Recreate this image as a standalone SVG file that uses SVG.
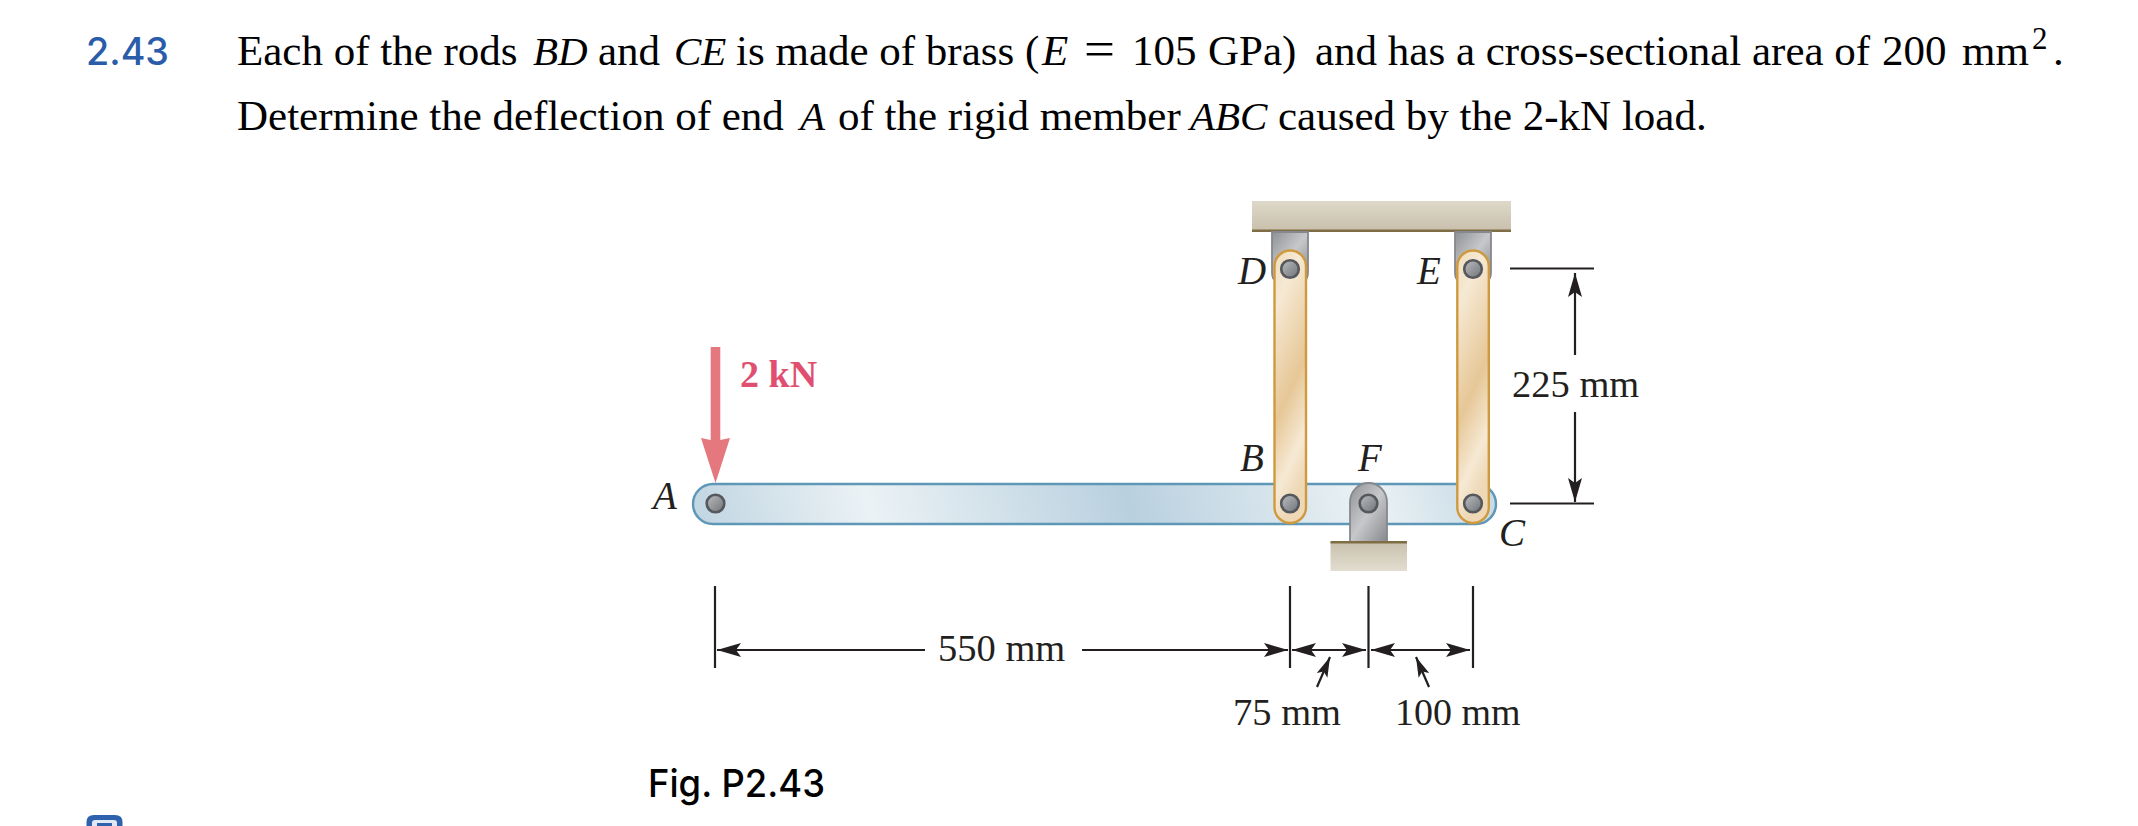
<svg xmlns="http://www.w3.org/2000/svg" width="2138" height="826" viewBox="0 0 2138 826">
<style>
text{font-family:"Liberation Serif","Times New Roman",serif;fill:#000}
.p{font-size:43px}
.i{font-style:italic;font-size:41px}
.l{font-size:38.500px;fill:#231f20}
.li{font-size:39px;fill:#231f20;font-style:italic}
.s{font-family:Inter,"Liberation Sans",sans-serif;font-weight:500}
.dim{stroke:#231f20;stroke-width:2.2;fill:none}
.tick{stroke:#231f20;stroke-width:2.2;fill:none}
.pin{fill:url(#pinG);stroke:#55585c;stroke-width:2.6}
.rod{fill:url(#rodG);stroke:#cf9a3f;stroke-width:2.4}
.brk{fill:url(#brkG);stroke:#85888c;stroke-width:1.8}
</style>
<defs>
<linearGradient id="barG" gradientUnits="userSpaceOnUse" x1="692" y1="620" x2="1497" y2="390">
<stop offset="0" stop-color="#b9d0df"/><stop offset=".24" stop-color="#ebf2f5"/><stop offset=".54" stop-color="#b9d0df"/><stop offset=".82" stop-color="#ebf2f5"/><stop offset="1" stop-color="#bdd3e1"/>
</linearGradient>
<linearGradient id="rodG" x1="0" y1="0" x2="0.25" y2="1">
<stop offset="0" stop-color="#f0dcbb"/><stop offset=".2" stop-color="#f6e9d4"/><stop offset=".6" stop-color="#e6c797"/><stop offset=".85" stop-color="#f6e9d4"/><stop offset="1" stop-color="#eed8b6"/>
</linearGradient>
<linearGradient id="brkG" x1="0" y1="0" x2="1" y2="1">
<stop offset="0" stop-color="#8e9196"/><stop offset=".5" stop-color="#c7c8ca"/><stop offset="1" stop-color="#85888d"/>
</linearGradient>
<linearGradient id="pinG" x1="0" y1="0" x2="1" y2="1">
<stop offset="0" stop-color="#bcbec1"/><stop offset="1" stop-color="#6f7276"/>
</linearGradient>
<linearGradient id="topG" x1="0" y1="0" x2="0" y2="1">
<stop offset="0" stop-color="#ddd8c9"/><stop offset="1" stop-color="#c9c1ad"/>
</linearGradient>
<linearGradient id="baseG" x1="0" y1="0" x2="0" y2="1">
<stop offset="0" stop-color="#c9c1ad"/><stop offset="1" stop-color="#e2ddd0"/>
</linearGradient>
<marker id="ah" viewBox="0 0 24 14" refX="24" refY="7" markerWidth="24" markerHeight="14" markerUnits="userSpaceOnUse" orient="auto-start-reverse">
<path d="M0 0 L24 7 L0 14 L5 7Z" fill="#231f20"/>
</marker>
<marker id="as" viewBox="0 0 24 14" refX="24" refY="7" markerWidth="20" markerHeight="12" markerUnits="userSpaceOnUse" orient="auto-start-reverse">
<path d="M0 0 L24 7 L0 14 L5 7Z" fill="#231f20"/>
</marker>
</defs>

<g id="problem-text">
<text class="s" x="86" y="65" font-size="38" textLength="83" lengthAdjust="spacingAndGlyphs" style="fill:#2a5caa">2.43</text>
<text class="p" x="237" y="65">Each of the rods</text>
<text class="i" x="533" y="65">BD</text>
<text class="p" x="598" y="65">and</text>
<text class="i" x="674" y="65">CE</text>
<text class="p" x="736" y="65">is made of brass (</text>
<text class="p" x="1042" y="65" font-style="italic">E</text>
<text x="1084" y="66" font-size="50" textLength="31" lengthAdjust="spacingAndGlyphs">=</text>
<text class="p" x="1132" y="65">105</text>
<text class="p" x="1208" y="65">GPa)</text>
<text class="p" x="1315" y="65">and has a cross-sectional area of</text>
<text class="p" x="1882" y="65">200</text>
<text class="p" x="1962" y="65">mm</text>
<text x="2032" y="49" font-size="31">2</text>
<text class="p" x="2053" y="65">.</text>
<text class="p" x="237" y="130">Determine the deflection of end</text>
<text class="i" x="800" y="130">A</text>
<text class="p" x="838" y="130">of the rigid member</text>
<text class="i" x="1190" y="130">ABC</text>
<text class="p" x="1278" y="130">caused by the 2-kN load.</text>
<text class="s" x="648" y="797" font-size="38" textLength="177" lengthAdjust="spacingAndGlyphs">Fig. P2.43</text>
</g>

<g id="ceiling">
<rect x="1252" y="201" width="259" height="29" fill="url(#topG)"/>
<rect x="1252" y="229.500" width="259" height="2.500" fill="#7f6e45"/>
</g>

<g id="bracket-D"><path class="brk" d="M1272 232 V272 Q1272 280 1276 280 H1304 Q1308 280 1308 272 V232Z"/></g>
<g id="bracket-E"><path class="brk" d="M1455 232 V272 Q1455 280 1459 280 H1487 Q1491 280 1491 272 V232Z"/></g>

<g id="member-ABC">
<rect x="693" y="484" width="803" height="40" rx="20" fill="url(#barG)" stroke="#5f97b7" stroke-width="2.4"/>
</g>

<g id="rod-BD"><rect class="rod" x="1274.500" y="250.500" width="31.500" height="272.500" rx="15.750"/></g>
<g id="rod-CE"><rect class="rod" x="1457.300" y="250.500" width="31.500" height="272.500" rx="15.750"/></g>

<g id="support-F">
<path class="brk" d="M1350 542 V502 A18.500 19 0 0 1 1387 502 V542Z"/>
<rect x="1330.500" y="542" width="76.500" height="29" fill="url(#baseG)"/>
<rect x="1330.500" y="541" width="76.500" height="2.500" fill="#7f6e45"/>
</g>

<g id="pins">
<circle class="pin" cx="1290" cy="269" r="8.800"/>
<circle class="pin" cx="1473" cy="269" r="8.800"/>
<circle class="pin" cx="715.500" cy="503.500" r="8.800"/>
<circle class="pin" cx="1290" cy="503.500" r="8.800"/>
<circle class="pin" cx="1368.500" cy="503.500" r="8.800"/>
<circle class="pin" cx="1473" cy="503.500" r="8.800"/>
</g>

<g id="connectors">
<path id="load-arrow" d="M710.700 347 H720.300 V440 L730 438 L715.500 483 L701 438 L710.700 440Z" fill="#e5787f"/>
<path class="tick" d="M715 586 V668 M1290 586 V668 M1368.500 586 V668 M1473 586 V668 M1510 268.500 H1594 M1510 503.500 H1594"/>
<path class="dim" d="M717 650 H925" marker-start="url(#ah)"/>
<path class="dim" d="M1082 650 H1288" marker-end="url(#ah)"/>
<path class="dim" d="M1292 650 H1366" marker-start="url(#ah)" marker-end="url(#ah)"/>
<path class="dim" d="M1371 650 H1470" marker-start="url(#ah)" marker-end="url(#ah)"/>
<path class="dim" d="M1575 273 V355" marker-start="url(#ah)"/>
<path class="dim" d="M1575 412 V502" marker-end="url(#ah)"/>
<path class="dim" d="M1317 687 L1330 657" marker-end="url(#as)"/>
<path class="dim" d="M1429 687 L1416 657" marker-end="url(#as)"/>
</g>

<g id="labels">
<text class="li" x="1238" y="284">D</text>
<text class="li" x="1417" y="284">E</text>
<text class="li" x="1240" y="471">B</text>
<text class="li" x="1358" y="471">F</text>
<text class="li" x="1499" y="546">C</text>
<text class="li" x="653" y="509">A</text>
<text x="740" y="387" font-size="38" font-weight="700" style="fill:#e04f70">2 kN</text>
<text class="l" x="1512" y="397">225 mm</text>
<text class="l" x="938" y="661">550 mm</text>
<text class="l" x="1233" y="725">75 mm</text>
<text class="l" x="1395" y="725" font-size="38" style="font-size:38px">100 mm</text>
</g>

<g id="icon">
<path d="M86.500 826 V822 Q86.500 815 94 815 H115 Q122.500 815 122.500 822 V826Z" fill="#2f62ad"/>
<path d="M92 826 V823 Q92 820 95 820 H114 Q117 820 117 823 V826Z" fill="#dfe8f4"/>
<rect x="97" y="823" width="15" height="3" fill="#2f62ad"/>
</g>
</svg>
